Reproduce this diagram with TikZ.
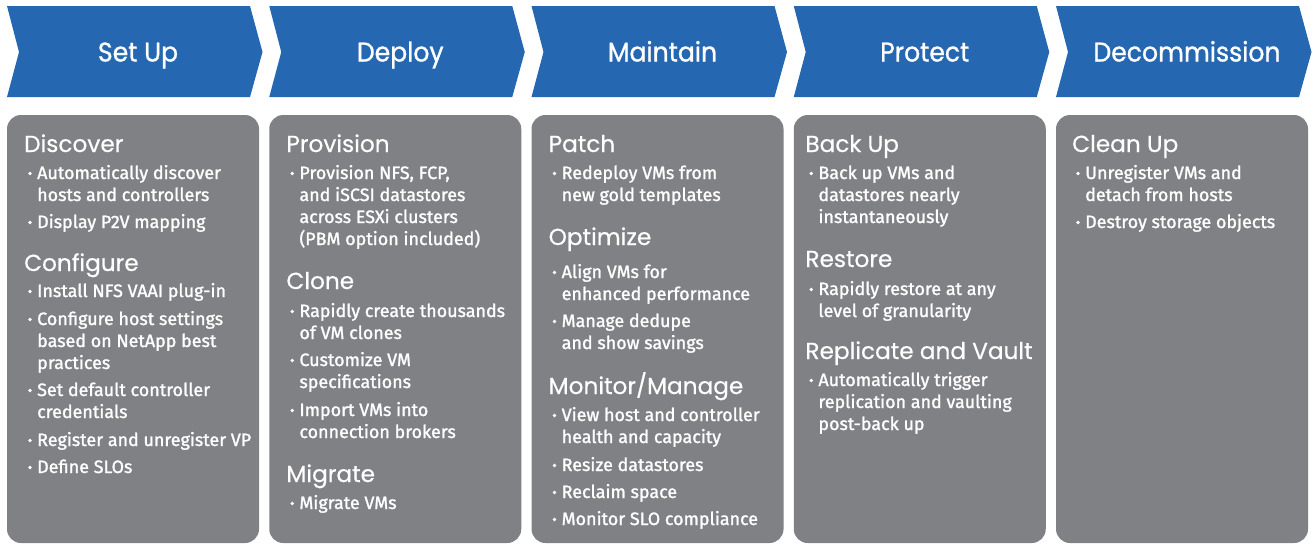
\documentclass[tikz,border=0pt]{standalone}
\usepackage{fontspec}
\setmainfont{Fira Sans}[FakeBold=1.4]
\newfontfamily\headfont{Poppins}[FakeBold=0.4]
\newfontfamily\titlefont{Poppins}[FakeBold=1.0,FakeStretch=0.93]
\definecolor{chevblue}{RGB}{38,103,177}
\definecolor{boxgray}{RGB}{128,129,132}
\newcommand\hd[3]{\node[head] (#1) at (17,#2) {#3};}
\newcommand\bu[3]{\node[dotmark] (#1d) at (23,#2-5.5) {};\node[itm] (#1) at (30,#2) {#3};}
\newcommand\cl[3]{\node[itm] (#1) at (30,#2) {#3};}
\begin{document}
\begin{tikzpicture}[x=1pt,y=-1pt,
  chev/.style={fill=chevblue, draw=none},
  stagebox/.style={fill=boxgray, rounded corners=14pt},
  stagetitle/.style={text=white, font=\titlefont\fontsize{27}{30}\selectfont, anchor=base, inner sep=0pt},
  head/.style={text=white, font=\headfont\fontsize{23.2}{26}\selectfont, anchor=base west, inner sep=0pt},
  itm/.style={text=white, font=\fontsize{17.9}{22}\selectfont, anchor=base west, inner sep=0pt},
  dotmark/.style={circle, fill=white, inner sep=0pt, minimum size=3.8pt}]
\useasboundingbox (0,0) rectangle (1314,544);
\fill[white] (0,0) rectangle (1314,544);
\foreach \L/\t/\n in {7/Set Up/s1, 269.25/Deploy/s2, 531.5/Maintain/s3, 793.75/Protect/s4, 1056/Decommission/s5}{
  \fill[chev] (\L,6) -- (\L+243,6) -- (\L+255.5,52) -- (\L+243,97) -- (\L,97) -- (\L+12,52) -- cycle;
  \node[stagetitle] (\n) at (\L+131,61.5) {\t};
  \fill[stagebox] (\L,115) rectangle (\L+252,543);
}
% column 1
\begin{scope}[xshift=7pt]
\hd{a0}{152}{Discover}
\bu{a1}{179}{Automatically discover}
\cl{a2}{201}{hosts and controllers}
\bu{a3}{228}{Display P2V mapping}
\hd{a4}{271}{Configure}
\bu{a5}{297}{Install NFS VAAI plug-in}
\bu{a6}{325}{Configure host settings}
\cl{a7}{347}{based on NetApp best}
\cl{a8}{369}{practices}
\bu{a9}{396}{Set default controller}
\cl{a10}{418}{credentials}
\bu{a11}{446}{Register and unregister VP}
\bu{a12}{473}{Define SLOs}
\end{scope}
% column 2
\begin{scope}[xshift=269.25pt]
\hd{b0}{152}{Provision}
\bu{b1}{179}{Provision NFS, FCP,}
\cl{b2}{201}{and iSCSI datastores}
\cl{b3}{223}{across ESXi clusters}
\cl{b4}{245}{(PBM option included)}
\hd{b5}{289}{Clone}
\bu{b6}{317}{Rapidly create thousands}
\cl{b7}{339}{of VM clones}
\bu{b8}{366}{Customize VM}
\cl{b9}{388}{specifications}
\bu{b10}{416}{Import VMs into}
\cl{b11}{438}{connection brokers}
\hd{b12}{482}{Migrate}
\bu{b13}{509}{Migrate VMs}
\end{scope}
% column 3
\begin{scope}[xshift=531.5pt]
\hd{c0}{152}{Patch}
\bu{c1}{179}{Redeploy VMs from}
\cl{c2}{201}{new gold templates}
\hd{c3}{245}{Optimize}
\bu{c4}{278}{Align VMs for}
\cl{c5}{300}{enhanced performance}
\bu{c6}{327}{Manage dedupe}
\cl{c7}{349}{and show savings}
\hd{c8}{394}{Monitor/Manage}
\bu{c9}{421}{View host and controller}
\cl{c10}{443}{health and capacity}
\bu{c11}{471}{Resize datastores}
\bu{c12}{498}{Reclaim space}
\bu{c13}{525}{Monitor SLO compliance}
\end{scope}
% column 4
\begin{scope}[xshift=788.25pt]
\hd{d0}{152}{Back Up}
\bu{d1}{179}{Back up VMs and}
\cl{d2}{201}{datastores nearly}
\cl{d3}{223}{instantaneously}
\hd{d4}{267}{Restore}
\bu{d5}{295}{Rapidly restore at any}
\cl{d6}{317}{level of granularity}
\hd{d7}{359}{Replicate and Vault}
\bu{d8}{386}{Automatically trigger}
\cl{d9}{408}{replication and vaulting}
\cl{d10}{430}{post-back up}
\end{scope}
% column 5
\begin{scope}[xshift=1055pt]
\hd{e0}{152}{Clean Up}
\bu{e1}{179}{Unregister VMs and}
\cl{e2}{201}{detach from hosts}
\bu{e3}{228}{Destroy storage objects}
\end{scope}
\end{tikzpicture}
\end{document}
